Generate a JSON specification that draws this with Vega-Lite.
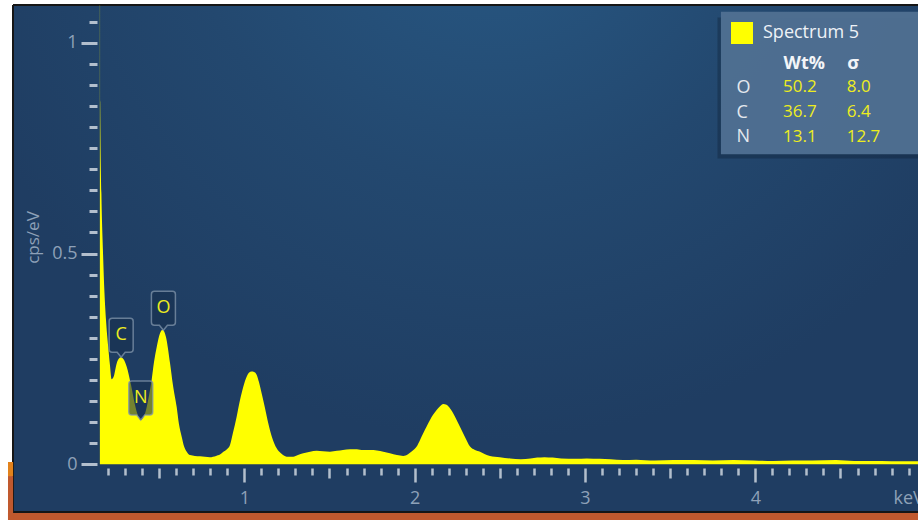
{
  "$schema": "https://vega.github.io/schema/vega-lite/v6.json",
  "width": 905,
  "height": 507,
  "autosize": "none",
  "padding": {"left": 13, "top": 5, "right": 0, "bottom": 10},
  "background": "#ffffff",
  "config": {
    "font": "Open Sans",
    "view": {
      "fill": {
        "gradient": "radial",
        "x1": 0.53, "y1": 0.08, "r1": 0,
        "x2": 0.53, "y2": 0.08, "r2": 0.62,
        "stops": [
          {"offset": 0, "color": "#285a86"},
          {"offset": 0.55, "color": "#23486f"},
          {"offset": 1, "color": "#1f3d62"}
        ]
      },
      "stroke": "#161616",
      "strokeWidth": 2,
      "strokeDash": [905, 507, 1412, 0]
    }
  },
  "datasets": {
    "spectrum": [
      {"energy": 0.152, "cps": 1.5},
      {"energy": 0.154, "cps": 0.859},
      {"energy": 0.161, "cps": 0.643},
      {"energy": 0.170, "cps": 0.508},
      {"energy": 0.179, "cps": 0.407},
      {"energy": 0.188, "cps": 0.342},
      {"energy": 0.201, "cps": 0.279},
      {"energy": 0.211, "cps": 0.236},
      {"energy": 0.221, "cps": 0.202},
      {"energy": 0.232, "cps": 0.207},
      {"energy": 0.251, "cps": 0.240},
      {"energy": 0.264, "cps": 0.251},
      {"energy": 0.276, "cps": 0.254},
      {"energy": 0.291, "cps": 0.249},
      {"energy": 0.309, "cps": 0.232},
      {"energy": 0.335, "cps": 0.188},
      {"energy": 0.358, "cps": 0.141},
      {"energy": 0.376, "cps": 0.115},
      {"energy": 0.392, "cps": 0.105},
      {"energy": 0.405, "cps": 0.110},
      {"energy": 0.423, "cps": 0.129},
      {"energy": 0.440, "cps": 0.162},
      {"energy": 0.456, "cps": 0.200},
      {"energy": 0.470, "cps": 0.243},
      {"energy": 0.486, "cps": 0.279},
      {"energy": 0.505, "cps": 0.311},
      {"energy": 0.521, "cps": 0.319},
      {"energy": 0.540, "cps": 0.302},
      {"energy": 0.564, "cps": 0.240},
      {"energy": 0.581, "cps": 0.188},
      {"energy": 0.603, "cps": 0.136},
      {"energy": 0.616, "cps": 0.096},
      {"energy": 0.632, "cps": 0.066},
      {"energy": 0.646, "cps": 0.043},
      {"energy": 0.662, "cps": 0.030},
      {"energy": 0.681, "cps": 0.022},
      {"energy": 0.710, "cps": 0.020},
      {"energy": 0.740, "cps": 0.019},
      {"energy": 0.769, "cps": 0.018},
      {"energy": 0.798, "cps": 0.017},
      {"energy": 0.834, "cps": 0.020},
      {"energy": 0.857, "cps": 0.023},
      {"energy": 0.877, "cps": 0.030},
      {"energy": 0.898, "cps": 0.036},
      {"energy": 0.916, "cps": 0.046},
      {"energy": 0.933, "cps": 0.074},
      {"energy": 0.955, "cps": 0.113},
      {"energy": 0.975, "cps": 0.153},
      {"energy": 0.994, "cps": 0.184},
      {"energy": 1.013, "cps": 0.207},
      {"energy": 1.027, "cps": 0.217},
      {"energy": 1.043, "cps": 0.220},
      {"energy": 1.057, "cps": 0.219},
      {"energy": 1.073, "cps": 0.212},
      {"energy": 1.086, "cps": 0.195},
      {"energy": 1.102, "cps": 0.168},
      {"energy": 1.121, "cps": 0.134},
      {"energy": 1.141, "cps": 0.097},
      {"energy": 1.162, "cps": 0.065},
      {"energy": 1.190, "cps": 0.038},
      {"energy": 1.215, "cps": 0.026},
      {"energy": 1.249, "cps": 0.018},
      {"energy": 1.287, "cps": 0.018},
      {"energy": 1.315, "cps": 0.022},
      {"energy": 1.346, "cps": 0.026},
      {"energy": 1.386, "cps": 0.030},
      {"energy": 1.425, "cps": 0.032},
      {"energy": 1.462, "cps": 0.031},
      {"energy": 1.503, "cps": 0.030},
      {"energy": 1.544, "cps": 0.032},
      {"energy": 1.579, "cps": 0.034},
      {"energy": 1.620, "cps": 0.036},
      {"energy": 1.661, "cps": 0.036},
      {"energy": 1.697, "cps": 0.034},
      {"energy": 1.738, "cps": 0.034},
      {"energy": 1.779, "cps": 0.033},
      {"energy": 1.816, "cps": 0.030},
      {"energy": 1.855, "cps": 0.026},
      {"energy": 1.896, "cps": 0.022},
      {"energy": 1.933, "cps": 0.020},
      {"energy": 1.961, "cps": 0.024},
      {"energy": 1.984, "cps": 0.031},
      {"energy": 2.012, "cps": 0.042},
      {"energy": 2.031, "cps": 0.057},
      {"energy": 2.051, "cps": 0.074},
      {"energy": 2.071, "cps": 0.090},
      {"energy": 2.090, "cps": 0.105},
      {"energy": 2.109, "cps": 0.118},
      {"energy": 2.129, "cps": 0.129},
      {"energy": 2.149, "cps": 0.138},
      {"energy": 2.168, "cps": 0.143},
      {"energy": 2.187, "cps": 0.141},
      {"energy": 2.207, "cps": 0.133},
      {"energy": 2.237, "cps": 0.113},
      {"energy": 2.266, "cps": 0.089},
      {"energy": 2.296, "cps": 0.064},
      {"energy": 2.325, "cps": 0.042},
      {"energy": 2.354, "cps": 0.034},
      {"energy": 2.384, "cps": 0.030},
      {"energy": 2.413, "cps": 0.024},
      {"energy": 2.442, "cps": 0.020},
      {"energy": 2.50, "cps": 0.017},
      {"energy": 2.56, "cps": 0.014},
      {"energy": 2.623, "cps": 0.012},
      {"energy": 2.68, "cps": 0.014},
      {"energy": 2.72, "cps": 0.016},
      {"energy": 2.762, "cps": 0.017},
      {"energy": 2.81, "cps": 0.016},
      {"energy": 2.86, "cps": 0.014},
      {"energy": 2.947, "cps": 0.013},
      {"energy": 3.01, "cps": 0.014},
      {"energy": 3.086, "cps": 0.013},
      {"energy": 3.15, "cps": 0.012},
      {"energy": 3.223, "cps": 0.010},
      {"energy": 3.30, "cps": 0.011},
      {"energy": 3.409, "cps": 0.009},
      {"energy": 3.52, "cps": 0.010},
      {"energy": 3.640, "cps": 0.010},
      {"energy": 3.75, "cps": 0.009},
      {"energy": 3.872, "cps": 0.010},
      {"energy": 3.99, "cps": 0.009},
      {"energy": 4.104, "cps": 0.008},
      {"energy": 4.22, "cps": 0.009},
      {"energy": 4.335, "cps": 0.009},
      {"energy": 4.474, "cps": 0.010},
      {"energy": 4.58, "cps": 0.008},
      {"energy": 4.682, "cps": 0.008},
      {"energy": 4.80, "cps": 0.0075},
      {"energy": 4.955, "cps": 0.007}
    ],
    "lines": [
      {"line": "C", "energy": 0.277, "cps": 0.254},
      {"line": "N", "energy": 0.392, "cps": 0.105},
      {"line": "O", "energy": 0.525, "cps": 0.318}
    ],
    "results": [
      {"element": "O", "Wt%": 50.2, "σ": 8.0},
      {"element": "C", "Wt%": 36.7, "σ": 6.4},
      {"element": "N", "Wt%": 13.1, "σ": 12.7}
    ],
    "single": [{}]
  },
  "layer": [
    {
      "layer": [
        {
          "data": {"name": "spectrum"},
          "mark": {"type": "area", "interpolate": "monotone", "clip": true},
          "encoding": {
            "x": {
              "field": "energy", "type": "quantitative",
              "scale": {"domain": [-0.358, 4.955], "nice": false, "zero": false},
              "axis": {
                "orient": "bottom", "offset": -44, "tickCount": 200,
                "values": [0.2,0.3,0.4,0.5,0.6,0.7,0.8,0.9,1,1.1,1.2,1.3,1.4,1.5,1.6,1.7,1.8,1.9,2,2.1,2.2,2.3,2.4,2.5,2.6,2.7,2.8,2.9,3,3.1,3.2,3.3,3.4,3.5,3.6,3.7,3.8,3.9,4,4.1,4.2,4.3,4.4,4.5,4.6,4.7,4.8,4.9],
                "domain": false, "grid": false,
                "tickColor": "#b3bfcd", "tickWidth": 2.5,
                "tickSize": {"condition": [
                  {"test": "datum.value % 1 === 0", "value": 14},
                  {"test": "datum.value % 0.5 === 0", "value": 10}
                ], "value": 7},
                "labelExpr": "datum.value % 1 === 0 ? format(datum.value, 'd') : ''",
                "labelOverlap": false, "labelFlush": false,
                "labelFontSize": 18, "labelColor": "#8ea1b8",
                "labelBaseline": "middle", "labelPadding": 16,
                "title": "keV", "titleX": 880, "titleY": 30,
                "titleAlign": "left", "titleBaseline": "middle",
                "titleFontSize": 18, "titleFontWeight": "normal", "titleColor": "#8ea1b8"
              }
            },
            "y": {
              "field": "cps", "type": "quantitative",
              "scale": {"domain": [-0.1131, 1.0894], "nice": false, "zero": false},
              "axis": {
                "orient": "left", "offset": -84, "tickCount": 200,
                "values": [0,0.05,0.1,0.15,0.2,0.25,0.3,0.35,0.4,0.45,0.5,0.55,0.6,0.65,0.7,0.75,0.8,0.85,0.9,0.95,1,1.05],
                "domain": false, "grid": false,
                "tickColor": "#b3bfcd", "tickWidth": 3,
                "tickSize": {"condition": {"test": "datum.value === 0 || datum.value === 0.5 || datum.value === 1", "value": 16}, "value": 8},
                "labelExpr": "datum.value === 0 ? '0' : datum.value === 0.5 ? '0.5' : datum.value === 1 ? '1' : ''",
                "labelOverlap": false, "labelFlush": false,
                "labelFontSize": 18, "labelColor": "#8ea1b8",
                "labelBaseline": "middle", "labelPadding": 4,
                "title": "cps/eV", "titleX": -64, "titleY": 232,
                "titleAngle": -90, "titleAlign": "center", "titleBaseline": "middle",
                "titleFontSize": 17, "titleFontWeight": "normal", "titleColor": "#8ea1b8"
              }
            },
            "y2": {"datum": 0},
            "color": {
              "datum": "Spectrum 5", "type": "nominal",
              "scale": {"range": ["#ffff00"]},
              "legend": {
                "orient": "none", "legendX": 718, "legendY": 17,
                "title": null, "padding": 0, "offset": 0,
                "symbolType": "square", "symbolSize": 484, "symbolStrokeWidth": 0,
                "symbolOpacity": 1,
                "labelFontSize": 18, "labelColor": "#eef2f7", "labelOffset": 10
              }
            }
          }
        },
        {
          "data": {"name": "single"},
          "mark": {"type": "rect", "fill": "#0a1628", "opacity": 0.3},
          "encoding": {
            "x": {"datum": 3.778, "scale": {"domain": [-0.358, 4.955], "nice": false, "zero": false}},
            "x2": {"datum": 5.3},
            "y": {"datum": 1.06, "scale": {"domain": [-0.1131, 1.0894], "nice": false, "zero": false}},
            "y2": {"datum": 0.7253}
          }
        },
        {
          "data": {"name": "single"},
          "mark": {"type": "rect", "fill": "#4f6f92", "opacity": 0.97},
          "encoding": {
            "x": {"datum": 3.798, "scale": {"domain": [-0.358, 4.955], "nice": false, "zero": false}},
            "x2": {"datum": 5.3},
            "y": {"datum": 1.0735, "scale": {"domain": [-0.1131, 1.0894], "nice": false, "zero": false}},
            "y2": {"datum": 0.7353}
          }
        },
        {
          "data": {"name": "single"},
          "mark": {"type": "rect", "fill": "#c0592e"},
          "encoding": {
            "x": {"datum": -0.3875, "scale": {"domain": [-0.358, 4.955], "nice": false, "zero": false}},
            "x2": {"datum": 5.3},
            "y": {"datum": -0.1155, "scale": {"domain": [-0.1131, 1.0894], "nice": false, "zero": false}},
            "y2": {"datum": -0.1321}
          }
        },
        {
          "data": {"name": "single"},
          "mark": {"type": "rect", "fill": "#c0592e"},
          "encoding": {
            "x": {"datum": -0.3875, "scale": {"domain": [-0.358, 4.955], "nice": false, "zero": false}},
            "x2": {"datum": -0.3575},
            "y": {"datum": -0.0278, "scale": {"domain": [-0.1131, 1.0894], "nice": false, "zero": false}},
            "y2": {"datum": -0.1321}
          }
        },
        {
          "data": {"name": "single"},
          "mark": {"type": "rect", "fill": "#e2821c"},
          "encoding": {
            "x": {"datum": -0.3875, "scale": {"domain": [-0.358, 4.955], "nice": false, "zero": false}},
            "x2": {"datum": -0.3575},
            "y": {"datum": 0.0055, "scale": {"domain": [-0.1131, 1.0894], "nice": false, "zero": false}},
            "y2": {"datum": -0.0278}
          }
        },
        {
          "data": {"name": "lines"},
          "mark": {
            "type": "point",
            "shape": "M0,0 L0.4,-0.5 L0.9,-0.5 Q1.2,-0.5 1.2,-0.8 L1.2,-3.6 Q1.2,-3.9 0.9,-3.9 L-0.9,-3.9 Q-1.2,-3.9 -1.2,-3.6 L-1.2,-0.8 Q-1.2,-0.5 -0.9,-0.5 L-0.4,-0.5 Z",
            "size": 400, "filled": true, "opacity": 1,
            "fill": "#17304f", "fillOpacity": 0.6,
            "stroke": "#8195ab", "strokeOpacity": 0.75, "strokeWidth": 1.5
          },
          "encoding": {
            "x": {"field": "energy", "type": "quantitative", "scale": {"domain": [-0.358, 4.955], "nice": false, "zero": false}},
            "y": {"field": "cps", "type": "quantitative", "scale": {"domain": [-0.1131, 1.0894], "nice": false, "zero": false}}
          }
        },
        {
          "data": {"name": "lines"},
          "mark": {"type": "text", "dy": -22, "fontSize": 18, "fill": "#eded1e", "align": "center", "baseline": "middle"},
          "encoding": {
            "x": {"field": "energy", "type": "quantitative", "scale": {"domain": [-0.358, 4.955], "nice": false, "zero": false}},
            "y": {"field": "cps", "type": "quantitative", "scale": {"domain": [-0.1131, 1.0894], "nice": false, "zero": false}},
            "text": {"field": "line"}
          }
        }
      ]
    },
    {
      "data": {"name": "results"},
      "transform": [{"fold": ["Wt%", "σ"], "as": ["column", "value"]}],
      "mark": {"type": "text", "align": "left", "baseline": "middle", "fontSize": 17, "fill": "#eded1e"},
      "encoding": {
        "x": {
          "field": "column", "type": "nominal",
          "scale": {"type": "point", "domain": ["Wt%", "σ"], "range": [770, 833.7], "padding": 0},
          "axis": {
            "orient": "top", "offset": -58.3, "zindex": 1, "domain": false, "ticks": false, "tickSize": 0,
            "labelPadding": 0, "labelAlign": "left", "labelBaseline": "middle", "labelAngle": 0,
            "labelFontWeight": "bold", "labelFontSize": 18, "labelColor": "#f3f5f8", "title": null
          }
        },
        "y": {
          "field": "element", "type": "nominal",
          "scale": {"type": "point", "domain": ["O", "C", "N"], "range": [82.3, 131.7], "padding": 0},
          "axis": {
            "orient": "left", "offset": -723, "zindex": 1, "domain": false, "ticks": false, "tickSize": 0,
            "labelPadding": 0, "labelAlign": "left", "labelBaseline": "middle",
            "labelFontSize": 18, "labelColor": "#e3e8ee", "title": null
          }
        },
        "text": {"field": "value", "type": "quantitative", "format": ".1f"}
      }
    }
  ],
  "resolve": {
    "scale": {"x": "independent", "y": "independent"},
    "axis": {"x": "independent", "y": "independent"}
  }
}
